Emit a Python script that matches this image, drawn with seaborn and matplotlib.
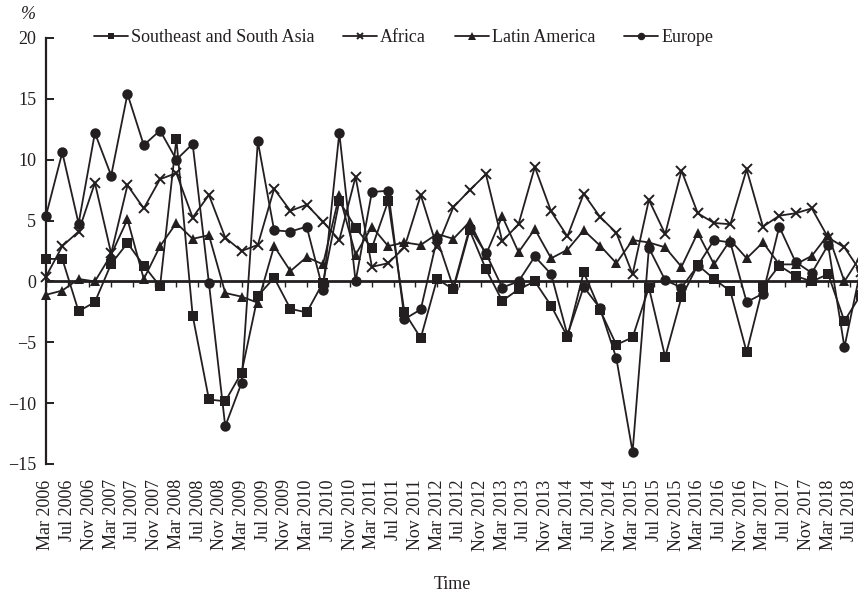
import numpy as np
import pandas as pd
import matplotlib
matplotlib.use("Agg")
import matplotlib.pyplot as plt
import seaborn as sns

# Quarterly growth rates (%), March 2006 through September 2018
quarter_months = np.arange(0, 151, 3)  # months elapsed since Mar 2006

southeast_south_asia = [
    1.85, 1.85, -2.45, -1.7, 1.45, 3.15, 1.3, -0.4, 11.7, -2.8,
    -9.7, -9.85, -7.5, -1.2, 0.3, -2.25, -2.55, -0.1, 6.6, 4.4,
    2.75, 6.6, -2.55, -4.65, 0.2, -0.65, 4.2, 1.0, -1.6, -0.65,
    0.0, -2.0, -4.55, 0.75, -2.35, -5.2, -4.6, -0.5, -6.2, -1.3,
    1.35, 0.2, -0.8, -5.8, -0.45, 1.3, 0.45, 0.0, 0.6, -3.25, -1.1,
]
africa = [
    0.4, 2.9, 4.1, 8.1, 2.3, 7.9, 6.0, 8.4, 8.9, 5.25,
    7.1, 3.6, 2.5, 3.0, 7.6, 5.8, 6.3, 4.9, 3.4, 8.6,
    1.2, 1.5, 2.8, 7.1, 2.8, 6.1, 7.5, 8.8, 3.3, 4.7,
    9.4, 5.75, 3.7, 7.2, 5.3, 4.0, 0.6, 6.7, 3.9, 9.1,
    5.6, 4.8, 4.7, 9.2, 4.5, 5.4, 5.6, 6.0, 3.6, 2.8, 0.8,
]
latin_america = [
    -1.1, -0.75, 0.2, 0.0, 2.2, 5.1, 0.2, 2.9, 4.8, 3.5,
    3.8, -0.95, -1.25, -1.75, 2.9, 0.85, 2.0, 1.4, 7.1, 2.2,
    4.5, 2.9, 3.2, 3.0, 3.9, 3.5, 4.9, 2.2, 5.35, 2.4,
    4.3, 1.9, 2.6, 4.2, 2.95, 1.5, 3.4, 3.2, 2.8, 1.2,
    4.0, 1.4, 3.4, 1.9, 3.2, 1.4, 1.4, 2.1, 3.85, 0.0, 2.1,
]
europe = [
    5.4, 10.6, 4.75, 12.2, 8.7, 15.4, 11.2, 12.4, 10.0, 11.3,
    -0.15, -11.9, -8.35, 11.5, 4.2, 4.1, 4.5, -0.7, 12.2, 0.0,
    7.35, 7.45, -3.1, -2.3, 3.5, -0.5, 4.4, 2.3, -0.5, 0.0,
    2.05, 0.6, -4.4, -0.45, -2.2, -6.3, -14.0, 2.75, 0.1, -0.5,
    1.3, 3.4, 3.2, -1.7, -1.0, 4.5, 1.6, 0.7, 3.0, -5.4, 1.0,
]

series_names = ["Southeast and South Asia", "Africa", "Latin America", "Europe"]
series_values = [southeast_south_asia, africa, latin_america, europe]
series_markers = ["s", "x", "^", "o"]
series_marker_sizes = [6.8, 6.8, 7.8, 7.5]

# x tick labels every four months
tick_months = np.arange(0, 149, 4)
tick_labels = [f"{m} {y}" for y in range(2006, 2019) for m in ("Mar", "Jul", "Nov")][:len(tick_months)]

y_ticks = [-15, -10, -5, 0, 5, 10, 15, 20]

sns.set_theme(style="white")
plt.rcParams["font.family"] = ["Liberation Serif", "DejaVu Serif"]
plt.rcParams["axes.unicode_minus"] = True

ink = "#231f20"

fig = plt.figure(figsize=(8.58, 5.92), dpi=100)
ax = fig.add_axes([46 / 858, 128 / 592, (858 - 46) / 858, (464 - 38) / 592])

for name, vals, mk, ms in zip(series_names, series_values, series_markers, series_marker_sizes):
    df = pd.DataFrame({"month": quarter_months, "value": vals})
    kw = dict(marker=mk, markersize=ms, color=ink, linewidth=1.3, label=name,
              markeredgecolor=ink, markerfacecolor=ink)
    if mk == "x":
        kw.update(markeredgewidth=1.4)
    else:
        kw.update(markeredgewidth=0)
    sns.lineplot(data=df, x="month", y="value", ax=ax, **kw)

for ln in ax.lines:
    ln.set_clip_on(False)

ax.set_xlim(0, 149.5)
ax.set_ylim(-15, 20)
ax.set_yticks(y_ticks)
ax.set_xlabel("")
ax.set_ylabel("")

for side in ("top", "right"):
    ax.spines[side].set_visible(False)
ax.spines["left"].set_color(ink)
ax.spines["left"].set_linewidth(1.6)
ax.spines["bottom"].set_position(("data", 0))
ax.spines["bottom"].set_color(ink)
ax.spines["bottom"].set_linewidth(2.0)

ax.set_xticks(tick_months)
ax.tick_params(axis="x", which="both", bottom=True, labelbottom=False,
               direction="out", length=4, width=1.0, color=ink)
ax.tick_params(axis="y", direction="in", length=6, width=1.4, color=ink,
               labelsize=13, labelcolor=ink, pad=7, left=True)

# date labels along the lower edge of the plot
sec = ax.secondary_xaxis("bottom")
sec.set_xticks(tick_months, labels=tick_labels, rotation=90)
sec.tick_params(length=0, pad=11, labelsize=13, labelcolor=ink)
sec.spines["bottom"].set_visible(False)
sec.set_xlabel("Time", fontsize=13, color=ink, labelpad=18)

ax.text(-0.021, 1.056, "%", transform=ax.transAxes, fontsize=13, color=ink,
        style="italic", ha="center", va="center")

leg = ax.legend(loc="center", bbox_to_anchor=(0.44, 1.0), ncol=4, frameon=False,
                fontsize=13, handlelength=1.9, handletextpad=0.15,
                columnspacing=1.6, markerscale=0.72, labelcolor=ink,
                borderaxespad=0)

fig.savefig("out.png", dpi=100)
